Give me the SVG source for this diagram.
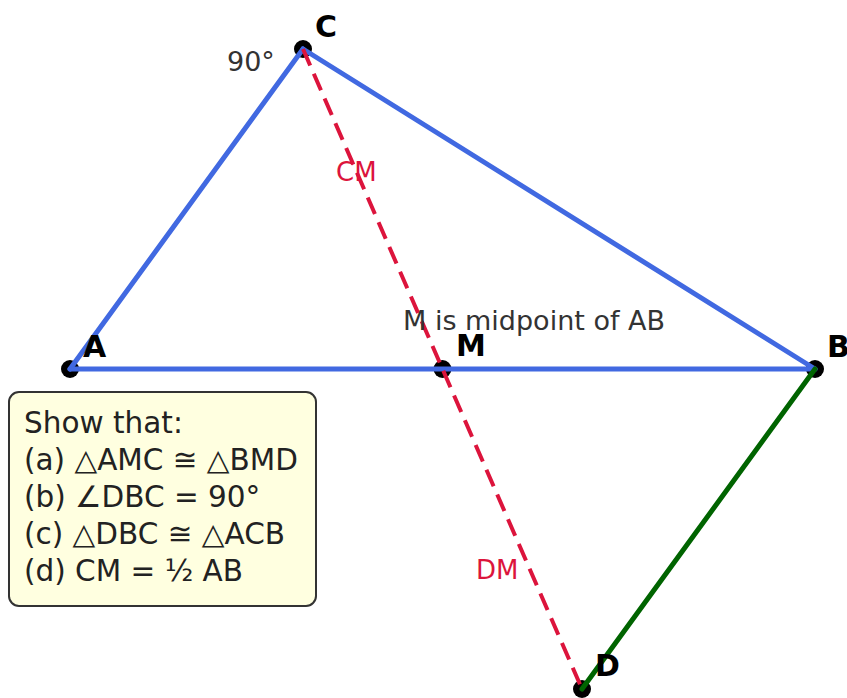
<svg xmlns="http://www.w3.org/2000/svg" width="847" height="698" viewBox="0 0 847 698">
<style>
text{font-family:"DejaVu Sans","Liberation Sans",sans-serif}
.pt{font-weight:bold;font-size:30px;fill:#000}
.dot{fill:#000}
.side{stroke:#4169E1;stroke-width:5;fill:none;stroke-linecap:round}
.green{stroke:#006400;stroke-width:5;fill:none;stroke-linecap:round}
.dash{stroke:#DC143C;stroke-width:4;fill:none;stroke-dasharray:18 9}
.red{fill:#DC143C;font-size:26px}
.note{fill:#333;font-size:27px}
.box{fill:#FFFFE0;stroke:#333;stroke-width:2}
.bt{fill:#222;font-size:29.5px}
</style>
<rect width="847" height="698" fill="#fff"/>
<g id="points">
<g id="A"><circle class="dot" cx="70" cy="369" r="9"/></g>
<g id="B"><circle class="dot" cx="815" cy="369" r="9"/></g>
<g id="C"><circle class="dot" cx="303" cy="49" r="9"/></g>
<g id="M"><circle class="dot" cx="442.5" cy="369" r="9"/></g>
<g id="D"><circle class="dot" cx="582" cy="689" r="9"/></g>
</g>
<g id="connectors">
<line class="side" x1="70" y1="369" x2="303" y2="49"/>
<line class="side" x1="303" y1="49" x2="815" y2="369"/>
<line class="side" x1="70" y1="369" x2="815" y2="369"/>
<line class="green" x1="815" y1="369" x2="582" y2="689"/>
<line class="dash" x1="303" y1="49" x2="582" y2="689"/>
</g>
<g id="labels">
<text class="pt" x="315" y="37">C</text>
<text class="pt" x="83" y="357">A</text>
<text class="pt" x="827" y="357">B</text>
<text class="pt" x="456" y="356">M</text>
<text class="pt" x="595" y="676">D</text>
<text class="note" x="227" y="71">90°</text>
<text class="note" x="403" y="330">M is midpoint of AB</text>
<text class="red" x="336" y="181">CM</text>
<text class="red" x="476" y="579">DM</text>
</g>
<g id="box">
<rect class="box" x="9" y="392" width="307" height="214" rx="10"/>
<text class="bt" x="24" y="433">Show that:</text>
<text class="bt" x="24" y="470">(a) △AMC ≅ △BMD</text>
<text class="bt" x="24" y="507">(b) ∠DBC = 90°</text>
<text class="bt" x="24" y="544">(c) △DBC ≅ △ACB</text>
<text class="bt" x="24" y="581">(d) CM = ½ AB</text>
</g>
</svg>
